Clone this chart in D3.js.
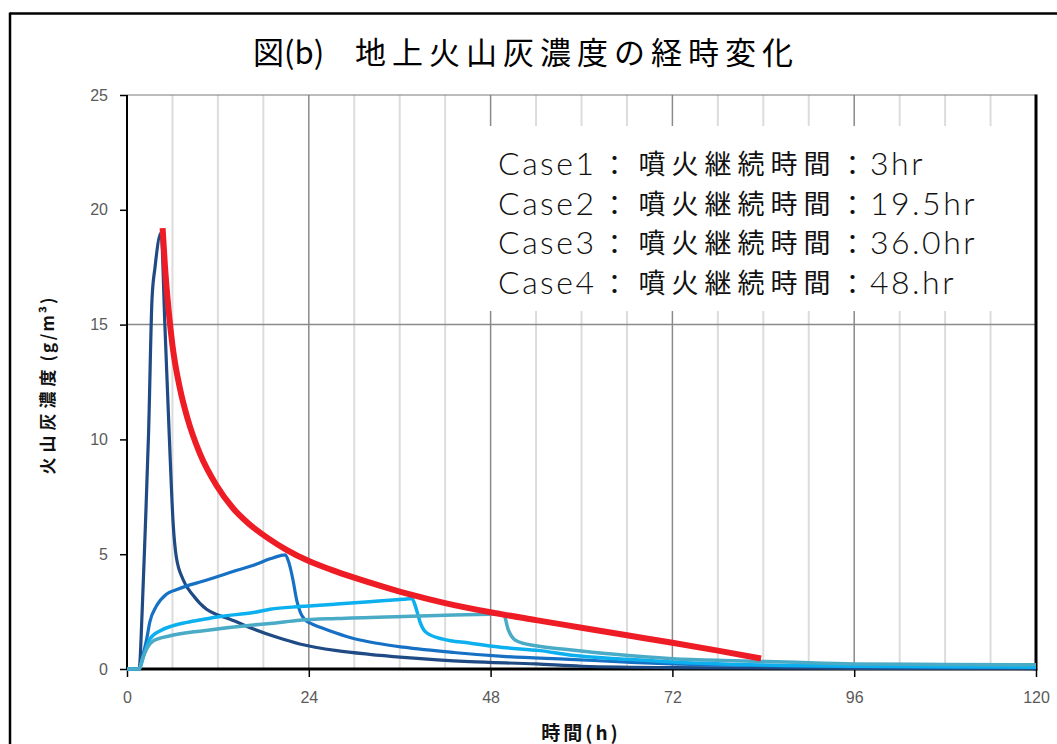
<!DOCTYPE html>
<html>
<head>
<meta charset="utf-8">
<script src="https://cdn.jsdelivr.net/npm/d3@7"></script>
<style>
  html, body { margin: 0; padding: 0; background: #fff; }
  svg { display: block; }
</style>
</head>
<body>
<svg id="chart" width="1057" height="744"></svg>
<script>
// ---------- DATA ----------
const chartTitleA = "図(b)";
const chartTitleB = "地上火山灰濃度の経時変化";
const yAxisTitleA = "火山灰濃度";
const yAxisTitleB = "(g/m³)";
const xAxisTitle = "時間(h)";
const xTicks = [0, 24, 48, 72, 96, 120];
const xMinorTicks = [6, 12, 18, 30, 36, 42, 54, 60, 66, 78, 84, 90, 102, 108, 114];
const yTicks = [0, 5, 10, 15, 20, 25];
const yGridValues = [15];

const legendCases = ["Case1", "Case2", "Case3", "Case4"];
const legendLabel = "噴火継続時間";
const legendDurations = ["3hr", "19.5hr", "36.0hr", "48.hr"];

const case1Time  = [0, 1.6, 2.0, 2.4, 2.85, 3.3, 3.7, 4.5, 5.0, 5.6, 6.1, 6.5, 7.4, 8.75, 10.5, 12.0, 13.6, 16.7, 19.8, 22.8, 27.7, 32, 36.5, 45.2, 54, 60, 72, 96, 120];
const case1Value = [0, 0, 2.5, 6.0, 10.3, 16.1, 17.5, 19.0, 15.0, 10.0, 6.3, 4.9, 3.9, 3.2, 2.6, 2.35, 2.17, 1.74, 1.38, 1.09, 0.8, 0.64, 0.51, 0.32, 0.22, 0.12, 0.06, 0.03, 0.02];

const case2Time  = [0, 1.6, 2.1, 2.6, 3.0, 3.9, 5.2, 6.5, 7.9, 10, 12.3, 14.5, 16.7, 18.9, 20.6, 20.9, 21.4, 21.9, 22.4, 22.9, 23.5, 24.5, 25.5, 27.5, 29.9, 33, 36.5, 43.1, 49.6, 58.4, 66, 72, 84, 96, 108, 120];
const case2Value = [0, 0, 0.6, 1.3, 2.03, 2.75, 3.26, 3.45, 3.62, 3.82, 4.06, 4.3, 4.52, 4.8, 4.96, 4.97, 4.6, 3.9, 3.0, 2.45, 2.15, 1.95, 1.82, 1.58, 1.33, 1.12, 0.95, 0.72, 0.55, 0.42, 0.3, 0.22, 0.15, 0.1, 0.08, 0.07];

const case3Time  = [0, 1.6, 2.2, 3.0, 4.4, 6, 7.9, 10, 12.3, 16.7, 18.9, 22.8, 27.7, 32, 36.5, 37.6, 38.2, 38.7, 39.5, 41.7, 45.2, 49.6, 54.5, 58.4, 66, 72, 80, 88, 96, 108, 120];
const case3Value = [0, 0, 0.58, 1.3, 1.67, 1.88, 2.03, 2.16, 2.29, 2.46, 2.6, 2.72, 2.83, 2.93, 3.04, 3.07, 2.6, 2.03, 1.59, 1.3, 1.13, 0.94, 0.8, 0.61, 0.42, 0.3, 0.2, 0.15, 0.12, 0.1, 0.08];

const case4Time  = [0, 1.6, 2.0, 2.6, 3.5, 5.7, 10.1, 16.7, 18.9, 22.8, 27.7, 36.5, 42, 47.9, 49.7, 50.3, 51.4, 54, 58.4, 64, 72, 80, 87, 96, 108, 120];
const case4Value = [0, 0, 0.4, 0.87, 1.23, 1.45, 1.67, 1.92, 1.98, 2.12, 2.2, 2.29, 2.34, 2.39, 2.4, 1.74, 1.23, 1.01, 0.84, 0.65, 0.45, 0.36, 0.3, 0.22, 0.2, 0.18];

const envelopeTime  = [4.7, 5.0, 5.5, 6.0, 7.0, 8.0, 9.6, 11.8, 14, 16, 18.6, 21, 24, 27, 30, 34, 37.5, 42, 48, 54, 60, 66, 72, 78, 83.7];
const envelopeValue = [19.2, 17.6, 15.6, 14.1, 12.2, 10.9, 9.4, 8.0, 7.0, 6.35, 5.7, 5.2, 4.7, 4.32, 3.98, 3.57, 3.24, 2.87, 2.47, 2.13, 1.8, 1.47, 1.14, 0.8, 0.46];

// ---------- STYLE / LAYOUT ----------
const seriesStyles = [
  { color: "#1f4a84", width: 3.2 },
  { color: "#1670c4", width: 3.2 },
  { color: "#0db0ee", width: 3.5 },
  { color: "#4aabc7", width: 3.5 },
];
const cjk = "'Noto Sans CJK JP', 'Noto Sans', sans-serif";
const latin = "Lato, 'Liberation Sans', sans-serif";
const tickFont = "'Liberation Sans Narrow', 'Liberation Sans', Arial, sans-serif";

const svg = d3.select("#chart");
const plot = { left: 127, right: 1036, top: 95, bottom: 669 };

const x = d3.scaleLinear().domain([0, 120]).range([plot.left, plot.right]);
const y = d3.scaleLinear().domain([0, 25]).range([plot.bottom, plot.top]);

// outer border
svg.append("line").attr("x1", 10).attr("x2", 1057).attr("y1", 13.5).attr("y2", 13.5)
  .attr("stroke", "#000").attr("stroke-width", 2.5);
svg.append("line").attr("x1", 10).attr("x2", 10).attr("y1", 12.5).attr("y2", 744)
  .attr("stroke", "#000").attr("stroke-width", 2.5);

// title
const title = svg.append("text").attr("y", 64).attr("font-family", cjk)
  .attr("font-size", 31).attr("fill", "#000");
title.append("tspan").attr("x", 253).text(chartTitleA);
title.append("tspan").attr("x", 355).attr("letter-spacing", 6).text(chartTitleB);

// gridlines
const grid = svg.append("g");
grid.selectAll("line.minor").data(xMinorTicks).join("line").attr("class", "minor")
  .attr("x1", d => x(d)).attr("x2", d => x(d))
  .attr("y1", plot.top).attr("y2", plot.bottom)
  .attr("stroke", "#dcdcdc").attr("stroke-width", 2);
grid.selectAll("line.major").data(xTicks.filter(d => d > 0 && d < 120)).join("line").attr("class", "major")
  .attr("x1", d => x(d)).attr("x2", d => x(d))
  .attr("y1", plot.top).attr("y2", plot.bottom)
  .attr("stroke", "#8a8a8a").attr("stroke-width", 1.5);
grid.selectAll("line.h").data(yGridValues).join("line").attr("class", "h")
  .attr("x1", plot.left).attr("x2", plot.right)
  .attr("y1", d => y(d)).attr("y2", d => y(d))
  .attr("stroke", "#8a8a8a").attr("stroke-width", 1.5);
// top frame
svg.append("line").attr("x1", plot.left).attr("x2", plot.right)
  .attr("y1", plot.top).attr("y2", plot.top).attr("stroke", "#7a7a7a").attr("stroke-width", 1.2);

// legend text box (white)
svg.append("rect").attr("x", 476).attr("y", 126).attr("width", 557).attr("height", 185).attr("fill", "#fff");

const legendTop = 175, legendStep = 39.5;
legendCases.forEach((c, i) => {
  const by = legendTop + i * legendStep;
  const t = svg.append("text").attr("y", by).attr("fill", "#111");
  t.append("tspan").attr("x", 498).attr("font-family", latin).attr("font-weight", 300)
    .attr("font-size", 32).attr("letter-spacing", 2.5).text(c);
  t.append("tspan").attr("x", 601).attr("font-family", cjk).attr("font-size", 27).text("：");
  t.append("tspan").attr("x", 638.5).attr("dy", -1).attr("font-family", cjk)
    .attr("font-size", 27).attr("letter-spacing", 6).text(legendLabel);
  t.append("tspan").attr("x", 839).attr("dy", 1).attr("font-family", cjk).attr("font-size", 27).text("：");
  t.append("tspan").attr("x", 870).attr("font-family", latin).attr("font-weight", 300)
    .attr("font-size", 32).attr("letter-spacing", 2.5).text(legendDurations[i]);
});

// series lines
const makeSeries = (ts, vs) => ts.map((t, i) => [t, vs[i]]);
const series = [
  makeSeries(case1Time, case1Value),
  makeSeries(case2Time, case2Value),
  makeSeries(case3Time, case3Value),
  makeSeries(case4Time, case4Value),
];
const line = d3.line().x(d => x(d[0])).y(d => y(d[1])).curve(d3.curveMonotoneX);

// axes
const yAxis = d3.axisLeft(y).tickValues(yTicks).tickSize(7).tickPadding(12).tickFormat(d3.format("d"));
const yg = svg.append("g").attr("transform", `translate(${plot.left},0)`).call(yAxis);
yg.select(".domain").remove();
yg.selectAll(".tick line").attr("stroke", "#000").attr("stroke-width", 1.5);
yg.selectAll(".tick text").attr("font-family", tickFont).attr("font-size", 16).attr("fill", "#5a5a5a");

const xAxis = d3.axisBottom(x).tickValues(xTicks).tickSize(8).tickPadding(15).tickFormat(d3.format("d"));
const xg = svg.append("g").attr("transform", `translate(0,${plot.bottom})`).call(xAxis);
xg.select(".domain").remove();
xg.selectAll(".tick line").attr("stroke", "#000").attr("stroke-width", 1.5);
xg.selectAll(".tick text").attr("font-family", tickFont).attr("font-size", 16).attr("fill", "#5a5a5a");

// frame lines
svg.append("line").attr("x1", plot.left).attr("x2", plot.left).attr("y1", plot.top).attr("y2", plot.bottom + 1)
  .attr("stroke", "#000").attr("stroke-width", 2);
svg.append("line").attr("x1", plot.left).attr("x2", plot.right).attr("y1", plot.bottom).attr("y2", plot.bottom)
  .attr("stroke", "#000").attr("stroke-width", 3);
svg.append("line").attr("x1", plot.right).attr("x2", plot.right).attr("y1", plot.top - 0.6).attr("y2", plot.bottom + 1.5)
  .attr("stroke", "#000").attr("stroke-width", 3);

// data lines on top
const linesG = svg.append("g");
series.forEach((s, i) => {
  linesG.append("path").datum(s).attr("d", line)
    .attr("fill", "none").attr("stroke", seriesStyles[i].color)
    .attr("stroke-width", seriesStyles[i].width).attr("stroke-linejoin", "round");
});
linesG.append("path").datum(makeSeries(envelopeTime, envelopeValue)).attr("d", line)
  .attr("fill", "none").attr("stroke", "#ee1c25").attr("stroke-width", 6)
  .attr("stroke-linecap", "butt").attr("stroke-linejoin", "round");

// axis titles
const yt = svg.append("text").attr("transform", "translate(54,385) rotate(-90)")
  .attr("text-anchor", "middle").attr("font-family", cjk).attr("font-weight", 700)
  .attr("font-size", 17).attr("fill", "#111");
yt.append("tspan").attr("letter-spacing", 5).text(yAxisTitleA);
yt.append("tspan").attr("dx", 3).attr("letter-spacing", 2).text(yAxisTitleB);

svg.append("text").attr("x", 581).attr("y", 740).attr("text-anchor", "middle")
  .attr("font-family", cjk).attr("font-weight", 700).attr("font-size", 19)
  .attr("letter-spacing", 3).attr("fill", "#111").text(xAxisTitle);
</script>
</body>
</html>
